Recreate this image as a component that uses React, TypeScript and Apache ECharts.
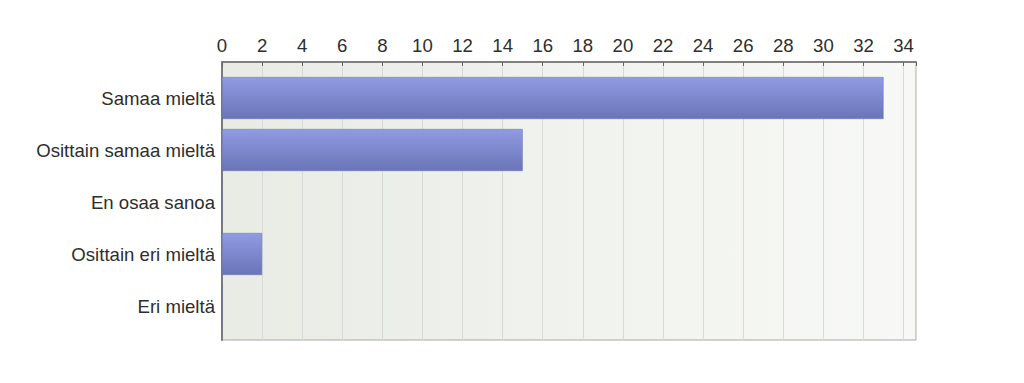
import React, { useEffect, useRef } from "react";
import * as echarts from "echarts";

const categories = [
  "Samaa mieltä",
  "Osittain samaa mieltä",
  "En osaa sanoa",
  "Osittain eri mieltä",
  "Eri mieltä",
];
const counts = [33, 15, 0, 2, 0];
const axisMin = 0;
const axisMax = 34.62;
const tickStep = 2;

const FONT = "'Liberation Sans', Arial, sans-serif";
const TEXT_COLOR = "#2e2e2e";

export default function App() {
  const ref = useRef<HTMLDivElement>(null);

  useEffect(() => {
    if (!ref.current) return;
    const chart = echarts.init(ref.current, undefined, { renderer: "svg" });

    // Outer frame holds the background, border, top axis and grid lines;
    // the inner grid carries the category bands and bars.
    const frame = { left: 222, top: 62, width: 694, height: 278 };
    const inner = { left: 222, top: 72, width: 694, height: 260 };

    chart.setOption({
      animation: false,
      backgroundColor: "#ffffff",
      textStyle: { fontFamily: FONT },
      grid: [
        {
          ...frame,
          show: true,
          backgroundColor: new echarts.graphic.LinearGradient(0, 0, 1, 0, [
            { offset: 0, color: "#e8ece5" },
            { offset: 1, color: "#f8f9f6" },
          ]),
          borderColor: "#a8a8a8",
          borderWidth: 1,
        },
        { ...inner, show: false },
      ],
      xAxis: [
        {
          gridIndex: 0,
          type: "value",
          position: "top",
          min: axisMin,
          max: axisMax,
          interval: tickStep,
          axisLine: { show: true, onZero: false, lineStyle: { color: "#808080", width: 2 } },
          axisTick: { show: true, inside: true, length: 4, lineStyle: { color: "#666666", width: 1 } },
          axisLabel: {
            fontSize: 18.6,
            color: TEXT_COLOR,
            fontFamily: FONT,
            margin: 7,
            formatter: (v: number) => (Number.isInteger(v) ? String(v) : ""),
          },
          splitLine: { show: true, lineStyle: { color: "#d8dad6", width: 1 } },
        },
        {
          gridIndex: 1,
          type: "value",
          min: axisMin,
          max: axisMax,
          show: false,
        },
      ],
      yAxis: [
        {
          gridIndex: 0,
          type: "value",
          min: 0,
          max: 1,
          axisLine: { show: true, onZero: false, lineStyle: { color: "#7a7a7a", width: 2 } },
          axisTick: { show: false },
          axisLabel: { show: false },
          splitLine: { show: false },
        },
        {
          gridIndex: 1,
          type: "category",
          inverse: true,
          data: categories,
          axisLine: { show: false },
          axisTick: { show: false },
          axisLabel: {
            fontSize: 18.6,
            color: TEXT_COLOR,
            fontFamily: FONT,
            margin: 7,
          },
        },
      ],
      series: [
        {
          type: "bar",
          xAxisIndex: 1,
          yAxisIndex: 1,
          data: counts,
          barWidth: 42,
          itemStyle: {
            color: new echarts.graphic.LinearGradient(0, 0, 0, 1, [
              { offset: 0, color: "#909be3" },
              { offset: 1, color: "#6a74b7" },
            ]),
            borderColor: "#6670b0",
            borderWidth: 0.5,
          },
        },
      ],
    });

    return () => chart.dispose();
  }, []);

  return (
    <div
      ref={ref}
      style={{ position: "fixed", left: 0, top: 0, width: 1024, height: 383 }}
    />
  );
}
